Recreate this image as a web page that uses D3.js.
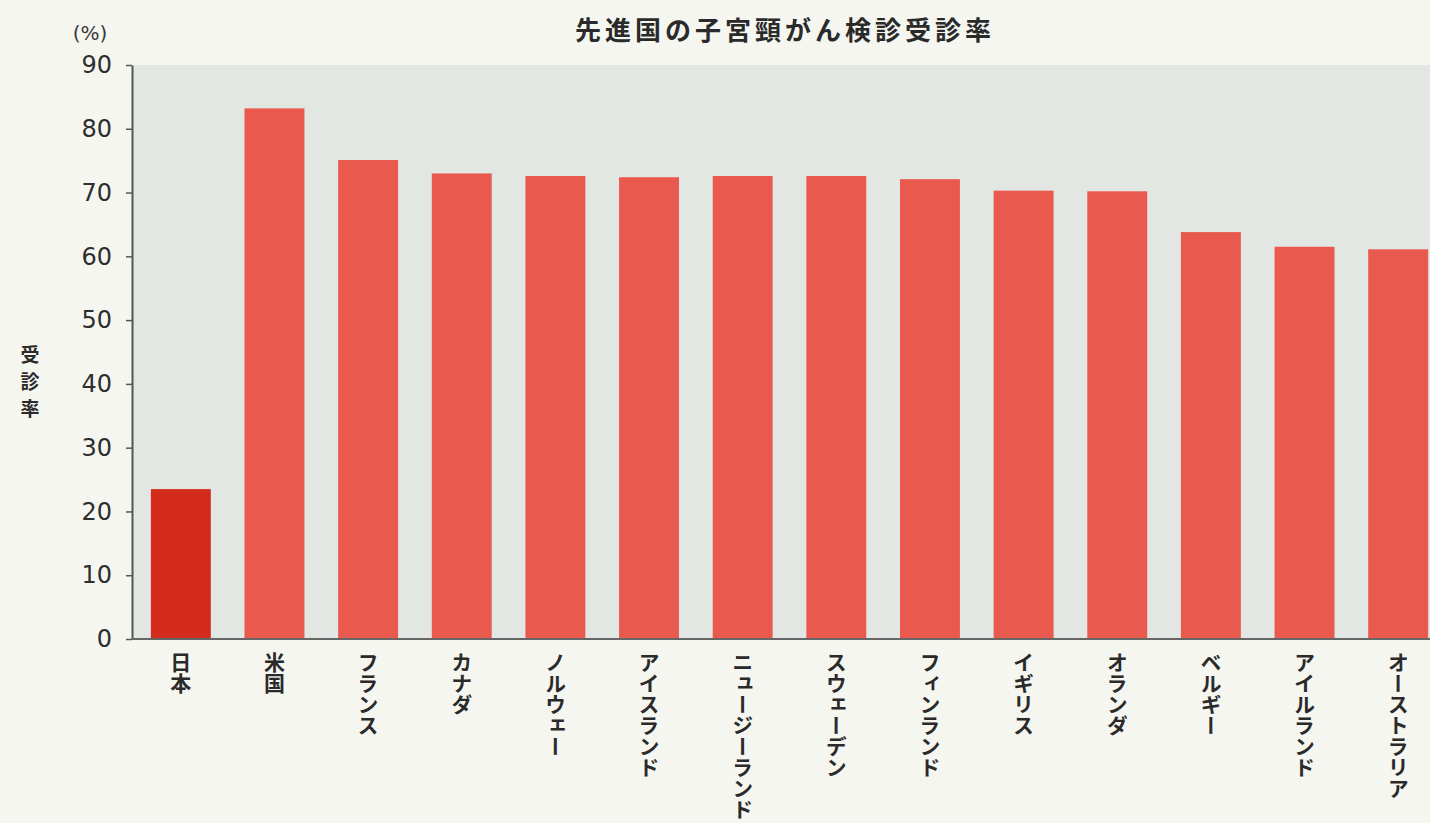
<!DOCTYPE html>
<html>
<head>
<meta charset="utf-8">
<script src="https://cdn.jsdelivr.net/npm/d3@7"></script>
<style>
  html, body { margin: 0; padding: 0; background: #f6f6f0; }
  svg { display: block; }
</style>
</head>
<body>
<svg id="chart" width="1430" height="823"></svg>
<script>
const categories = ["日本","米国","フランス","カナダ","ノルウェー","アイスランド","ニュージーランド","スウェーデン","フィンランド","イギリス","オランダ","ベルギー","アイルランド","オーストラリア"];
const values = [23.5, 83.2, 75.1, 73.0, 72.6, 72.4, 72.6, 72.6, 72.1, 70.3, 70.2, 63.8, 61.5, 61.1];
const yTicks = [0, 10, 20, 30, 40, 50, 60, 70, 80, 90];
const highlight = "日本";
const title = "先進国の子宮頸がん検診受診率";
const yUnit = "(%)";
const yLabel = "受診率";

const W = 1430, H = 823;
const svg = d3.select("#chart");
const jp = "'Noto Sans CJK JP', 'Noto Sans', sans-serif";

const x = d3.scaleBand().domain(categories).range([134, 1445]).paddingInner(0.36).paddingOuter(0.18);
const y = d3.scaleLinear().domain([0, 90]).range([639, 65]);

// plot background
svg.append("rect").attr("x", 132).attr("y", y(90)).attr("width", W - 132).attr("height", y(0) - y(90)).attr("fill", "#e2e7e4");

// bars
svg.append("g").selectAll("rect").data(categories).join("rect")
  .attr("x", d => x(d))
  .attr("y", (d, i) => y(values[i]))
  .attr("width", x.bandwidth())
  .attr("height", (d, i) => y(0) - y(values[i]))
  .attr("fill", d => d === highlight ? "#d42b1d" : "#e9594d");

// y axis
const yAxis = svg.append("g").attr("transform", "translate(132,0)")
  .call(d3.axisLeft(y).tickValues(yTicks).tickSize(6).tickPadding(14).tickSizeOuter(0));
yAxis.select(".domain").attr("stroke", "#555").attr("stroke-width", 2);
yAxis.selectAll(".tick line").attr("stroke", "#555").attr("stroke-width", 1.5);
yAxis.selectAll(".tick text").attr("font-family", "'DejaVu Sans', sans-serif").attr("font-size", 24).attr("fill", "#2e2e2e").attr("font-weight", 400);

// x axis line
svg.append("line").attr("x1", 132).attr("x2", W).attr("y1", y(0)).attr("y2", y(0)).attr("stroke", "#666").attr("stroke-width", 2);

// x labels (vertical)
svg.append("g").selectAll("text").data(categories).join("text")
  .attr("x", d => x(d) + x.bandwidth() / 2)
  .attr("y", 652)
  .attr("font-family", jp).attr("font-weight", 700).attr("font-size", 21).attr("fill", "#2a2a2a")
  .style("writing-mode", "vertical-rl").style("text-orientation", "upright")
  .text(d => d);

// title
svg.append("text").attr("x", 785).attr("y", 40).attr("text-anchor", "middle")
  .attr("font-family", jp).attr("font-weight", 700).attr("font-size", 26).attr("letter-spacing", 4)
  .attr("fill", "#2a2a2a").text(title);

// unit
svg.append("text").attr("x", 90).attr("y", 40).attr("text-anchor", "middle")
  .attr("font-family", "'DejaVu Sans', sans-serif").attr("font-size", 20).attr("fill", "#3a3a3a").text(yUnit);

// y label (stacked upright characters)
svg.append("g").selectAll("text").data(Array.from(yLabel)).join("text")
  .attr("text-anchor", "middle")
  .attr("font-family", jp).attr("font-weight", 700).attr("font-size", 19).attr("fill", "#2a2a2a")
  .attr("x", 30).attr("y", (d, i) => 362 + i * 27).text(d => d);
</script>
</body>
</html>
